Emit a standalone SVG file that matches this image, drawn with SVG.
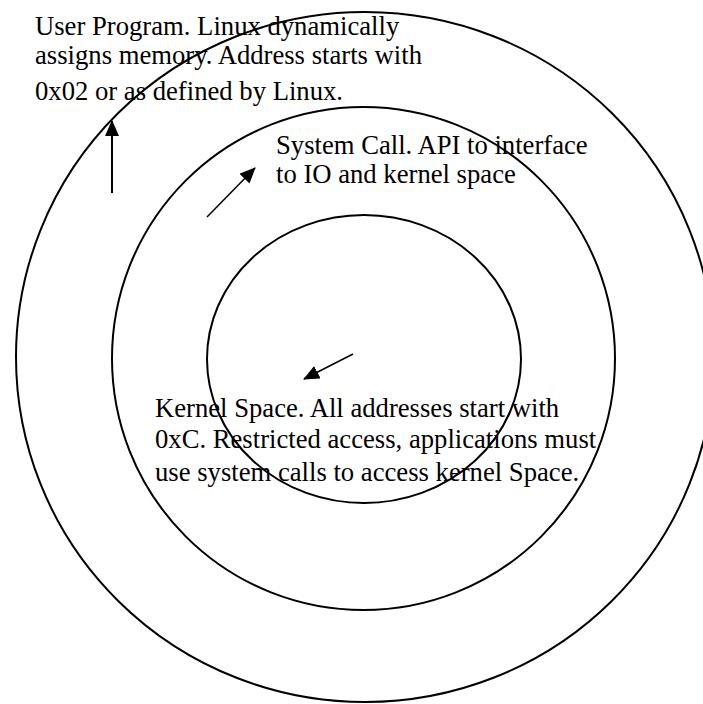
<svg xmlns="http://www.w3.org/2000/svg" width="703" height="704" viewBox="0 0 703 704">
  <style>
    .ring { fill: none; stroke: #000; stroke-width: 2; }
    .label { font-family: "Liberation Serif", "Times New Roman", serif; font-size: 26.67px; fill: #000; }
    .arrow { fill: none; stroke: #000; stroke-width: 1.5; marker-end: url(#head); }
  </style>
  <defs>
    <marker id="head" viewBox="0 0 16 14" refX="15" refY="7" markerWidth="16" markerHeight="14" markerUnits="userSpaceOnUse" orient="auto">
      <path d="M0,0 L16,7 L0,14 z" fill="#000"/>
    </marker>
  </defs>
  <rect width="703" height="704" fill="#fff"/>
  <g id="user-program">
    <ellipse class="ring" cx="365" cy="357" rx="349" ry="345"/>
    <text class="label" x="35" y="35">User Program. Linux dynamically</text>
    <text class="label" x="35" y="64">assigns memory. Address starts with</text>
    <text class="label" x="35" y="100">0x02 or as defined by Linux.</text>
  </g>
  <g id="system-call">
    <ellipse class="ring" cx="363.5" cy="358.5" rx="251.5" ry="251.5"/>
    <text class="label" x="276" y="154">System Call. API to interface</text>
    <text class="label" x="276" y="183">to IO and kernel space</text>
  </g>
  <g id="kernel-space">
    <ellipse class="ring" cx="364" cy="359" rx="157" ry="144"/>
    <text class="label" x="155" y="417">Kernel Space. All addresses start with</text>
    <text class="label" x="155" y="448">0xC. Restricted access, applications must</text>
    <text class="label" x="155" y="481">use system calls to access kernel Space.</text>
  </g>
  <g id="connectors">
    <line class="arrow" style="stroke-width:2" x1="112" y1="193" x2="112" y2="121"/>
    <line class="arrow" x1="207" y1="217" x2="255" y2="168"/>
    <line class="arrow" x1="353" y1="354" x2="304" y2="379"/>
  </g>
</svg>
